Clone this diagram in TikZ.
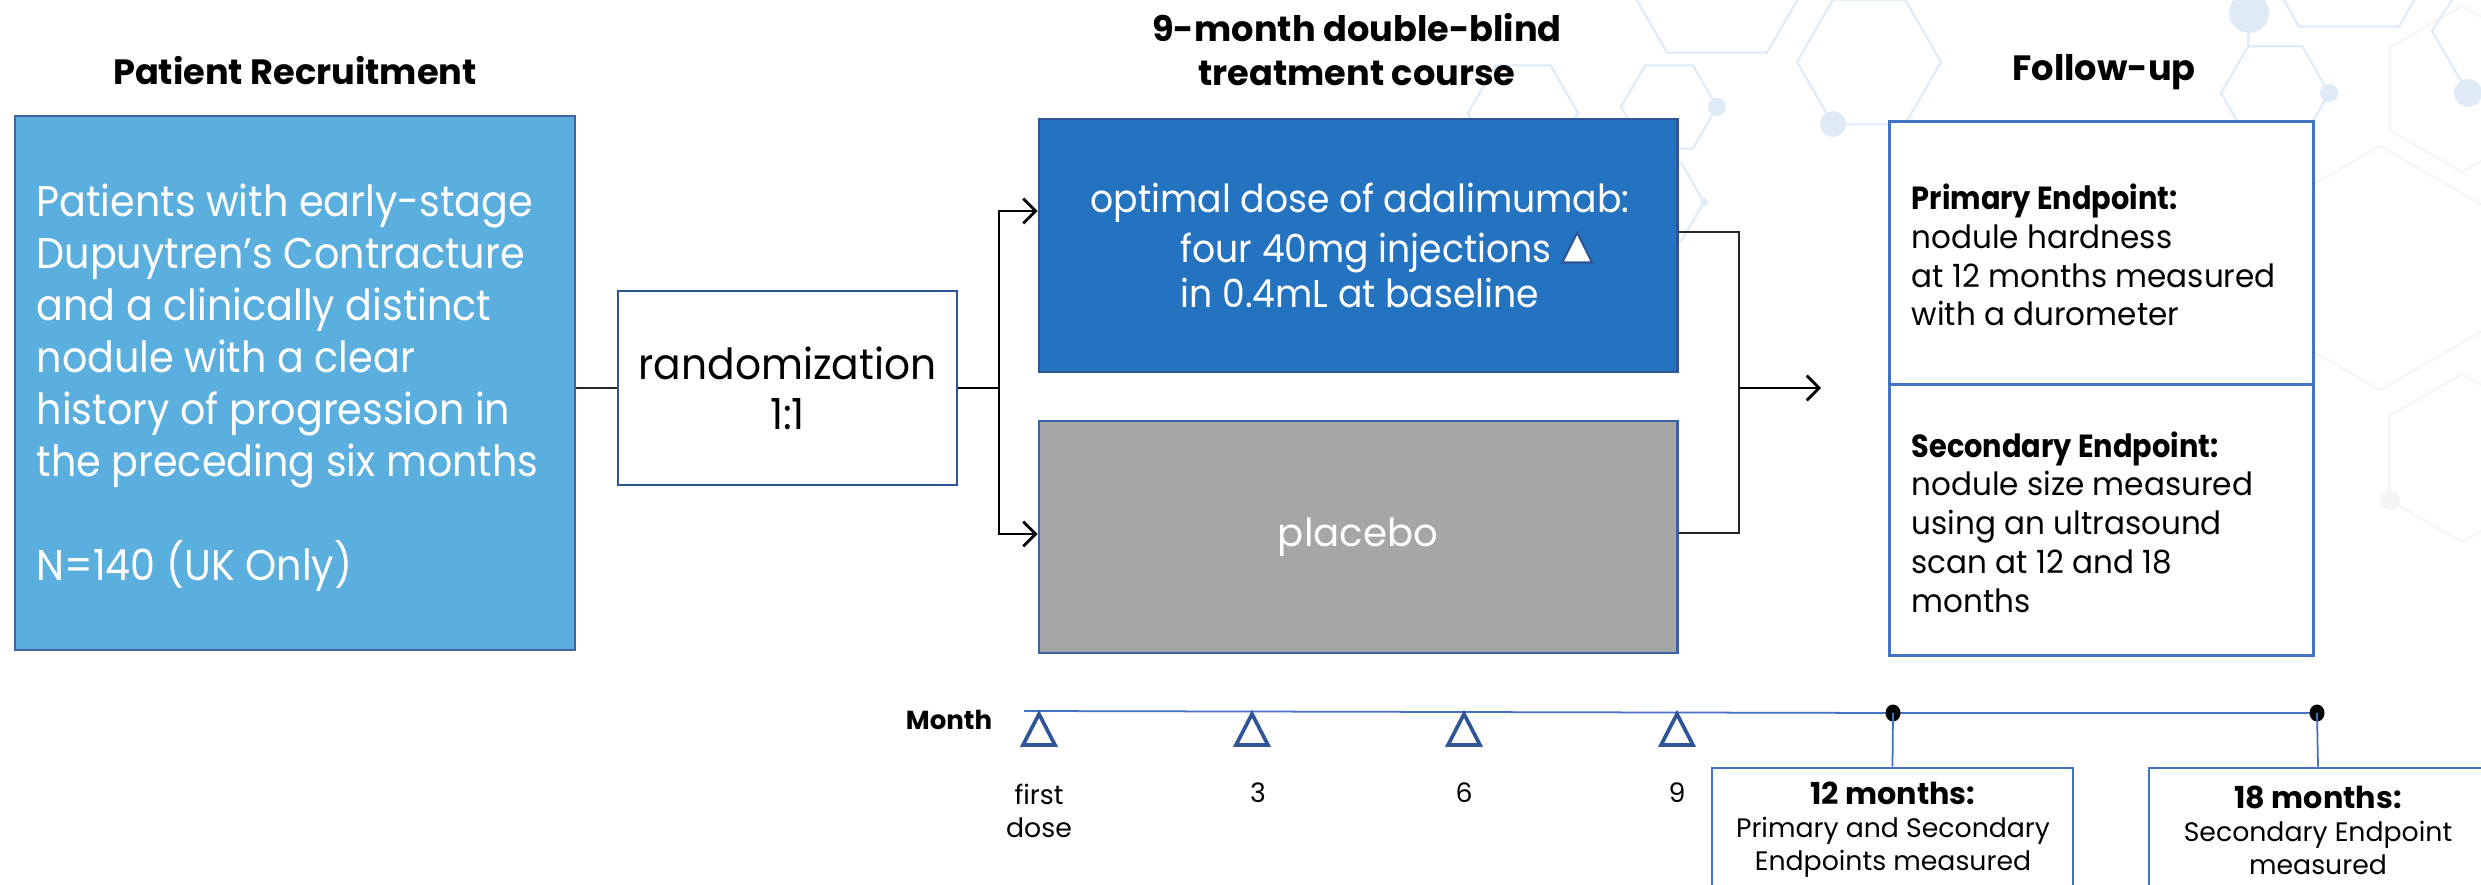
\documentclass[tikz,border=0pt]{standalone}
\usepackage{fontspec}
\setmainfont{Poppins}
\newfontfamily\popL[FakeStretch=0.925]{Poppins}
\newfontfamily\popD[FakeStretch=0.935]{Poppins}
\newfontfamily\popR[FakeStretch=0.95]{Poppins}
\newfontfamily\popF[FakeStretch=0.97]{Poppins}
\newfontfamily\popFb[FakeStretch=0.90]{Poppins}
\usetikzlibrary{arrows.meta}
\definecolor{ltblue}{RGB}{91,175,222}
\definecolor{ltborder}{RGB}{65,100,160}
\definecolor{dkblue}{RGB}{36,115,193}
\definecolor{dkborder}{RGB}{47,85,151}
\definecolor{grayfill}{RGB}{166,166,166}
\definecolor{midborder}{RGB}{68,114,196}
\definecolor{hexblue}{RGB}{222,235,247}
\definecolor{hexgray}{RGB}{244,245,247}
\newcommand\myhexF[4]{\draw[#4] ({#1+#3},#2) -- ({#1+#3/2},{#2-0.866*#3}) -- ({#1-#3/2},{#2-0.866*#3}) -- ({#1-#3},#2) -- ({#1-#3/2},{#2+0.866*#3}) -- ({#1+#3/2},{#2+0.866*#3}) -- cycle;}
\newcommand\myhexP[4]{\draw[#4] (#1,{#2-#3}) -- ({#1+0.866*#3},{#2-#3/2}) -- ({#1+0.866*#3},{#2+#3/2}) -- (#1,{#2+#3}) -- ({#1-0.866*#3},{#2+#3/2}) -- ({#1-0.866*#3},{#2-#3/2}) -- cycle;}
\begin{document}
\begin{tikzpicture}[x=0.01cm,y=-0.01cm,
  hexl/.style={draw=hexblue,line width=0.6pt},
  hexg/.style={draw=hexgray,line width=0.6pt},
  box/.style={draw, line width=0.75pt, inner sep=0pt},
  title/.style={font=\fontsize{10}{12.5}\selectfont\bfseries, align=center, inner sep=0pt},
  thinln/.style={line width=0.45pt, draw=black!85},
  thickln/.style={line width=0.8pt, draw=black},
  arr/.style={line width=0.8pt, draw=black, -{Straight Barb[length=3.5pt,width=7pt,line width=0.8pt]}},
  tri/.style={draw=dkborder, line width=1.05pt, line join=miter},
  tl/.style={font=\fontsize{7.6}{9.4}\selectfont, align=center, inner sep=0pt},
  ftxt/.style={font=\popF\fontsize{9.1}{11}\selectfont, align=left, inner sep=0pt, anchor=west}
]
\useasboundingbox (0,0) rectangle (2481,885);
\clip (0,0) rectangle (2481,885);
\fill[white] (0,0) rectangle (2481,885);

% background molecules
\myhexF{1523}{113}{55}{hexl}
\myhexF{1669}{107}{48}{hexl}
\myhexF{1717}{-34}{100}{hexl}
\myhexF{1869}{62}{72}{hexl}
\myhexF{1659}{202}{45}{hexl}
\myhexF{2275}{93}{54}{hexl}
\myhexF{2349}{-60}{100}{hexl}
\myhexP{2462}{89}{83}{hexg}
\myhexP{2380}{268}{122}{hexg}
\myhexP{2462}{458}{84}{hexg}
\draw[hexl] (2249,13) -- (2248,46);
\draw[hexl] (2452,0) -- (2432,31) -- (2468,93);
\fill[hexblue] (1717,107) circle (9);
\fill[hexblue] (1833,124) circle (13);
\fill[hexblue] (1704,202) circle (4);
\fill[hexblue] (2329,93) circle (9);
\fill[hexblue] (2249,13) circle (20);
\fill[hexblue] (2468,93) circle (14);
\fill[hexgray] (2390,500) circle (10);

% titles
\node[title] (t1) at (295,71) {Patient Recruitment};
\node[title] (t2) at (1357,50) {9-month double-blind\\treatment course};
\node[title] (t3) at (2104,72) {Follow-up};

% boxes
\node[box, draw=ltborder, fill=ltblue, minimum width=5.60cm, minimum height=5.34cm] (left) at (295,383) {};
\node[font=\popL\fontsize{12.2}{14.8}\selectfont, text=white, align=left, inner sep=0pt, anchor=west] (lefttxt) at (36,388)
  {Patients with early-stage\\Dupuytren’s Contracture\\and a clinically distinct\\nodule with a clear\\history of progression in\\the preceding six months\\[14.8pt]N=140 (UK Only)};

\node[box, draw=dkborder, fill=white, minimum width=3.39cm, minimum height=1.94cm,
  font=\popR\fontsize{12.2}{14.2}\selectfont, align=center] (rand) at (787.5,388) {randomization\\1:1};

\node[box, draw=dkborder, fill=dkblue, minimum width=6.38cm, minimum height=2.53cm] (dose) at (1358,245.5) {};
\node[font=\popD\fontsize{11}{12.7}\selectfont, text=white, inner sep=0pt] (dose1) at (1360,203) {optimal dose of adalimumab:};
\node[font=\popD\fontsize{11}{12.7}\selectfont, text=white, inner sep=0pt, align=left, anchor=west] (dose2) at (1180,269.5)
  {four 40mg injections \tikz[baseline=0pt]\filldraw[fill=white,draw=dkborder,line width=0.6pt,line join=miter] (0pt,0pt) -- (8.5pt,0pt) -- (4.25pt,8.5pt) -- cycle;\\in 0.4mL at baseline};

\node[box, draw=midborder!85!black, fill=grayfill, minimum width=6.38cm, minimum height=2.32cm,
  font=\fontsize{11}{12.7}\selectfont, text=white] (plac) at (1358,537) {placebo};

\node[box, draw=midborder, line width=0.85pt, fill=white, minimum width=4.23cm, minimum height=2.63cm] (fup1) at (2101.5,253.5) {};
\node[box, draw=midborder, line width=0.85pt, fill=white, minimum width=4.23cm, minimum height=2.70cm] (fup2) at (2101.5,520) {};
\node[ftxt] (prim) at (1911,255) {{\popFb\bfseries Primary Endpoint:}\\nodule hardness\\at 12 months measured\\with a durometer};
\node[ftxt] (sec) at (1911,522) {{\popFb\bfseries Secondary Endpoint:}\\nodule size measured\\using an ultrasound\\scan at 12 and 18\\months};

% connectors
\coordinate (sp) at (999,388);
\coordinate (spt) at (999,211);
\coordinate (spb) at (999,534);
\draw[thinln] (left.east |- rand.west) -- (rand.west);
\draw[thickln] (rand.east) -- (sp);
\draw[arr] (sp) -- (spt) -- (spt -| dose.west);
\draw[arr] (sp) -- (spb) -- (spb -| plac.west);
\coordinate (mt) at (1739,232);
\coordinate (mb) at (1739,533);
\coordinate (mg) at (1739,388);
\coordinate (ae) at (1821,388);
\draw[thinln] (mt -| dose.east) -- (mt) -- (mb) -- (mb -| plac.east);
\draw[arr] (mg) -- (ae);

% timeline
\node[font=\fontsize{7.4}{9}\selectfont\bfseries, inner sep=0pt] (month) at (949,720) {Month};
\coordinate (tl0) at (1024,711);
\coordinate (d12) at (1893,713);
\coordinate (d18) at (2317,713);
\draw[draw=midborder, line width=0.5pt] (tl0) -- (d12) -- (d18);
\fill (d12) ellipse [x radius=7.5, y radius=8.5];
\fill (d18) ellipse [x radius=7.5, y radius=8.5];
\foreach \xx in {1039,1252,1464,1677}{
  \draw[tri] ({\xx-16},745) -- (\xx,714) -- ({\xx+16},745) -- cycle;
}
\node[tl] (lab0) at (1039,810.5) {first\\dose};
\node[tl] (lab3) at (1258,793) {3};
\node[tl] (lab6) at (1464,793) {6};
\node[tl] (lab9) at (1677,793) {9};

\node[box, draw=midborder, line width=0.75pt, fill=white, minimum width=3.61cm, minimum height=1.40cm] (b12) at (1892.5,838) {};
\node[box, draw=midborder, line width=0.75pt, fill=white, minimum width=3.38cm, minimum height=1.40cm] (b18) at (2318,838) {};
\node[tl] (b12t) at (1893,830) {\textbf{\fontsize{8.6}{9.4}\selectfont 12 months:}\\Primary and Secondary\\Endpoints measured};
\node[tl] (b18t) at (2318,830) {\textbf{\fontsize{8.6}{9.4}\selectfont 18 months:}\\Secondary Endpoint\\measured};
\draw[draw=midborder, line width=0.5pt] (d12) -- (b12.north);
\draw[draw=midborder, line width=0.5pt] (d18) -- (b18.north);
\end{tikzpicture}
\end{document}
